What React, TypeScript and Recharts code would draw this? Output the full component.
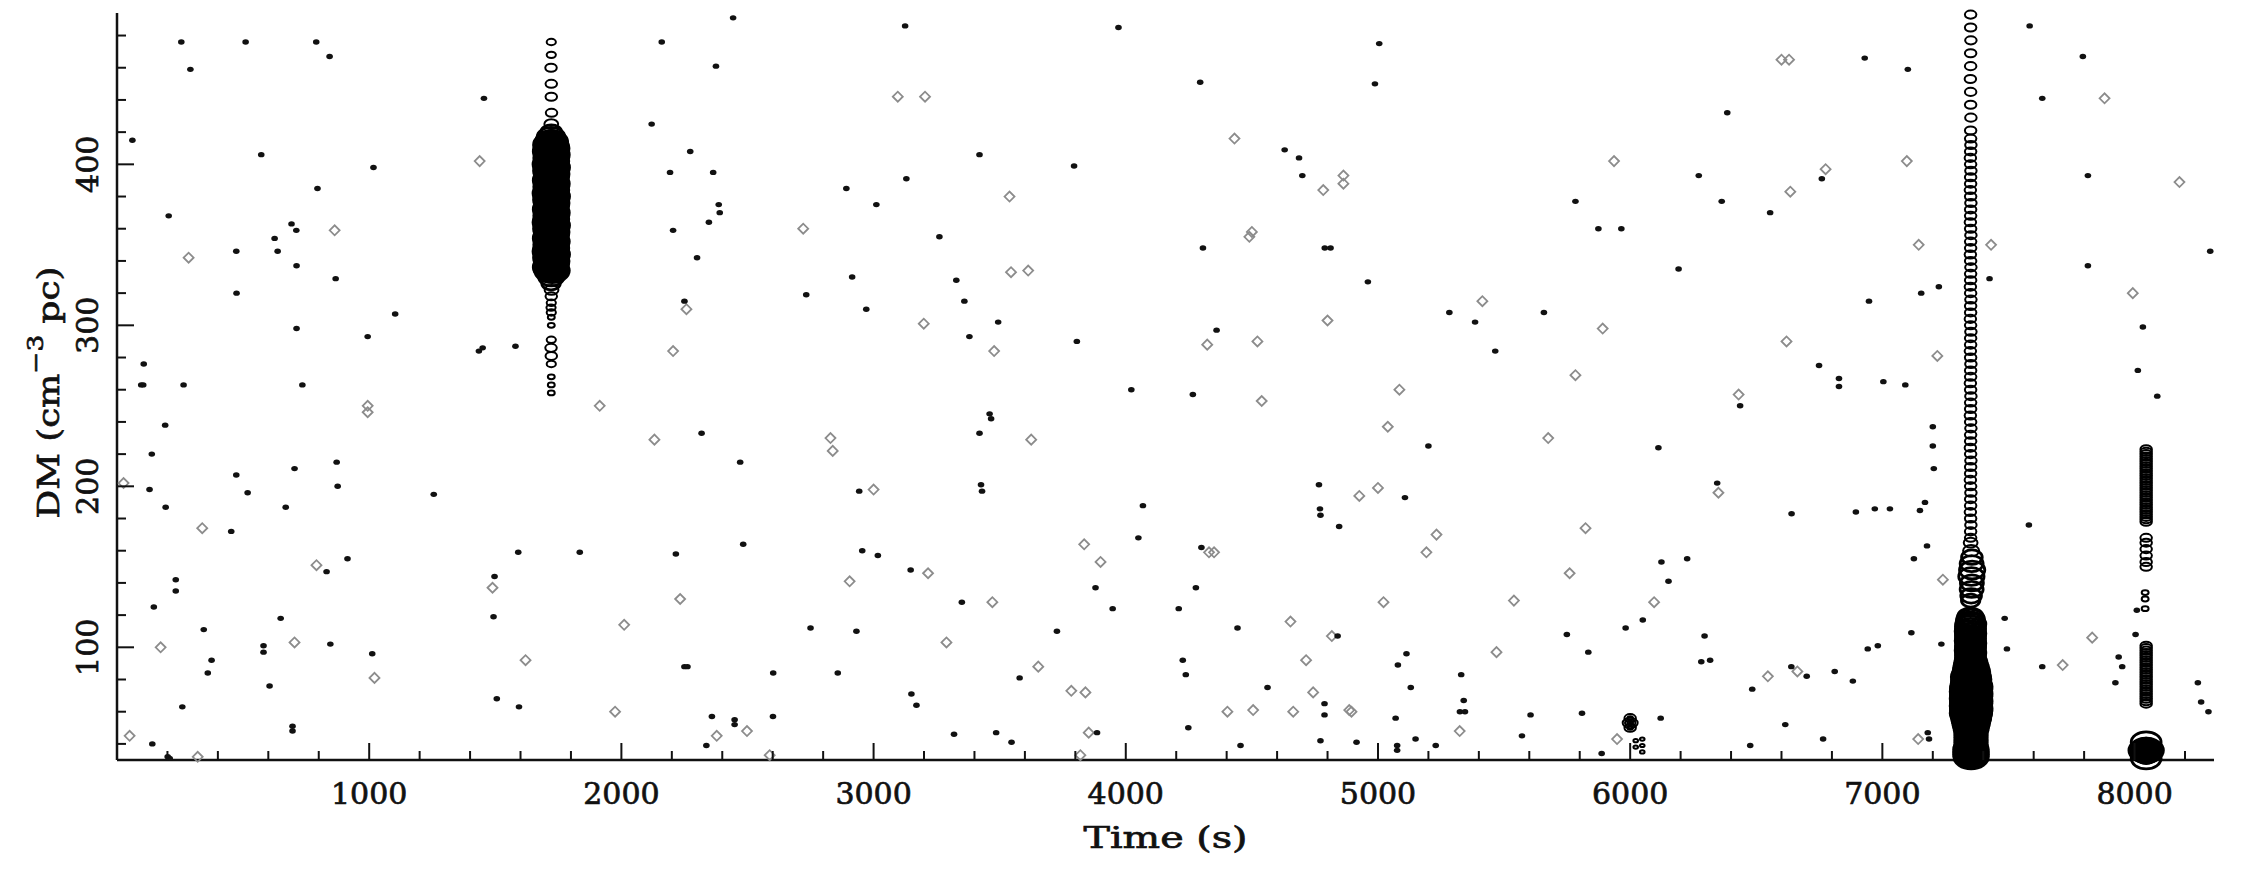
import React from 'react';
import { ScatterChart, Scatter, XAxis, YAxis } from 'recharts';

// single-pulse candidates: [time (s), DM]
const strongEvents = [
  [61, 415], [255, 476], [291, 459], [510, 476], [790, 476], [843, 467], [572, 406], [1017, 398],
  [795, 385], [205, 368], [625, 354], [637, 346], [473, 346], [692, 363], [711, 359], [712, 337],
  [867, 329], [474, 320], [712, 298], [994, 293], [1103, 307], [106, 276], [96, 263], [104, 263],
  [264, 263], [735, 263], [191, 238], [138, 220], [871, 215], [704, 211], [473, 207], [129, 198],
  [875, 200], [518, 196], [193, 187], [669, 187], [453, 172], [914, 155], [831, 147], [233, 142],
  [233, 135], [146, 125], [649, 118], [344, 111], [581, 101], [581, 97], [846, 102], [375, 92],
  [360, 84], [1012, 96], [605, 76], [259, 63], [696, 51], [696, 48], [140, 40], [201, 32], [209, 31],
  [1594, 63], [2337, 39], [2359, 57], [2449, 55], [2449, 52], [2601, 57], [3170, 64], [3319, 46],
  [3486, 47], [3547, 41], [3886, 47], [4248, 50],
  [4455, 39], [4788, 65], [4788, 58], [4772, 42], [4915, 41], [5070, 56], [5076, 39], [5076, 36],
  [5149, 43], [5229, 39], [5325, 60], [5345, 60], [5571, 45], [5605, 58], [5809, 59], [5887, 34],
  [6121, 56], [6476, 39], [6615, 52], [6765, 43], [7180, 47], [7185, 43],
  [6282, 91], [6484, 74], [6639, 88], [6700, 82], [6811, 85], [6883, 79], [6942, 99], [6982, 101], [7234, 102],
  [7101, 459], [7154, 320], [7224, 324], [7091, 263], [7200, 237], [7200, 225], [7204, 211], [7169, 190],
  [7149, 185], [7177, 163], [7125, 155], [7115, 109], [7425, 329], [7485, 118], [7494, 99], [7581, 176], [7584, 486],
  [7795, 467], [7634, 441], [7815, 393], [8300, 346], [7815, 337], [8033, 299], [8013, 272], [8090, 256],
  [7634, 88], [7937, 94], [7951, 88], [7924, 78], [8004, 108], [8009, 123], [8251, 78], [8264, 66], [8293, 60],
  [1256, 195], [1450, 286], [1435, 284], [1455, 441], [1506, 68], [1580, 287], [1591, 159], [1497, 144], [1493, 119],
  [1835, 159],
  [2120, 425], [2160, 476], [2193, 395], [2205, 359], [2216, 158], [2250, 315], [2250, 88], [2262, 88],
  [2273, 408], [2300, 342], [2318, 233], [2347, 364], [2364, 395], [2375, 461], [2386, 375], [2390, 370],
  [2443, 491], [2471, 215], [2483, 164],
  [2602, 84], [2733, 319], [2750, 112], [2858, 84], [2892, 385], [2915, 330], [2932, 110], [2943, 197],
  [2955, 160], [2971, 310],
  [3011, 375], [3017, 157], [3125, 486], [3130, 391], [3147, 148], [3150, 71], [3261, 355], [3328, 328],
  [3350, 128], [3360, 315], [3380, 293], [3420, 406], [3420, 233], [3426, 201], [3430, 197], [3460, 245],
  [3466, 242], [3494, 302],
  [3579, 81], [3727, 110], [3795, 399], [3806, 290], [3880, 137], [3948, 124], [3971, 485],
  [4022, 260], [4050, 168], [4068, 188], [4210, 124], [4226, 92], [4238, 83], [4266, 257], [4278, 137],
  [4295, 451], [4300, 162], [4306, 348], [4360, 297], [4443, 112],
  [4562, 75], [4630, 409], [4687, 404], [4700, 393], [4766, 201], [4770, 186], [4772, 182], [4789, 348],
  [4812, 348], [4840, 107], [4846, 175], [4960, 327], [4988, 450],
  [5005, 475], [5079, 89], [5107, 193], [5113, 96], [5130, 75], [5200, 225], [5283, 308], [5330, 83],
  [5340, 67], [5385, 302], [5465, 284],
  [5658, 308], [5749, 108], [5783, 377], [5834, 97], [5874, 360], [5965, 360], [5982, 112],
  [6050, 117], [6112, 224], [6124, 153], [6152, 141], [6192, 335], [6226, 155], [6272, 393], [6295, 107],
  [6317, 92], [6345, 202], [6363, 377], [6385, 432], [6436, 250],
  [6555, 370], [6640, 183], [6749, 275], [6760, 391], [6828, 267], [6828, 262], [6895, 184], [6930, 466],
  [6947, 315], [6970, 186],
  [7004, 265], [7030, 186],
];

const weakEvents = [
  [863, 359], [284, 342], [994, 250], [994, 246], [26, 202], [338, 174], [791, 151], [173, 100],
  [704, 103], [1021, 81], [50, 45], [320, 32],
  [1975, 60], [2378, 45], [2498, 48], [2588, 33], [3853, 47], [3820, 33],
  [4505, 61], [4664, 60], [4895, 60], [5324, 48], [5948, 43], [7142, 43], [6546, 82],
  [7097, 402], [7144, 350], [7218, 281], [7240, 142], [7431, 350],
  [7881, 441], [8178, 389], [7993, 320], [7715, 89], [7832, 106],
  [1489, 137], [1438, 402], [1620, 92], [1914, 250],
  [2011, 114], [2131, 229], [2205, 284], [2233, 130], [2258, 310],
  [2721, 360], [2829, 230], [2838, 222], [2905, 141],
  [3000, 198], [3096, 442], [3204, 442], [3199, 301], [3216, 146], [3289, 103], [3471, 128], [3478, 284],
  [3539, 380], [3545, 333], [3613, 334], [3625, 229], [3653, 88], [3784, 73], [3835, 164], [3900, 153], [3840, 72],
  [4323, 288], [4330, 159], [4350, 159], [4403, 60], [4431, 416], [4490, 355], [4500, 358],
  [4522, 290], [4539, 253], [4653, 116], [4715, 92], [4743, 72], [4783, 384], [4800, 303], [4817, 107],
  [4863, 393], [4863, 388], [4886, 61], [4926, 194], [5000, 199],
  [5022, 128], [5039, 237], [5085, 260], [5192, 159], [5232, 170], [5414, 315], [5470, 97],
  [5539, 129], [5675, 230], [5760, 146], [5783, 269], [5823, 174], [5891, 298], [5936, 402],
  [6095, 128], [6350, 196], [6430, 257],
  [6600, 465], [6630, 465], [6620, 290], [6635, 383], [6663, 85], [6775, 397],
];

// bright pulses: [time (s), DM, sigma]
const pulsesA = [
  [1722, 476, 4], [1722, 468, 4], [1721, 460, 5], [1722, 450, 5], [1722, 442, 5], [1723, 432, 5], [1722, 425, 6],
  [1722, 420, 9], [1721, 417, 12], [1723, 414, 14],
  [1720, 412, 15], [1724, 410, 15], [1719, 408, 15], [1725, 406, 15], [1721, 404, 15], [1723, 402, 15],
  [1718, 400, 15], [1726, 398, 15], [1720, 396, 15], [1724, 394, 15], [1722, 392, 15], [1719, 390, 15],
  [1725, 388, 15], [1721, 386, 15], [1723, 384, 15], [1718, 382, 15], [1726, 380, 15], [1720, 378, 15],
  [1724, 376, 15], [1722, 374, 15], [1719, 372, 15], [1725, 370, 15], [1721, 368, 15], [1723, 366, 15],
  [1718, 364, 15], [1726, 362, 15], [1720, 360, 15], [1724, 358, 15], [1722, 356, 15], [1719, 354, 15],
  [1725, 352, 15], [1721, 350, 15], [1723, 348, 15], [1718, 346, 15], [1726, 344, 15], [1720, 342, 15],
  [1724, 340, 15], [1722, 338, 15], [1719, 336, 15], [1725, 334, 15],
  [1722, 330, 11], [1721, 326, 8], [1723, 322, 6], [1722, 318, 5], [1722, 314, 4], [1721, 311, 4],
  [1722, 308, 4], [1722, 305, 3], [1722, 300, 3], [1722, 291, 4], [1721, 286, 5], [1722, 281, 5],
  [1722, 276, 4], [1722, 268, 3], [1722, 263, 3], [1722, 258, 3],
];

const pulsesB = [
  [7350, 493, 5], [7350, 485, 5], [7351, 477, 5], [7350, 469, 5], [7350, 461, 5], [7349, 453, 5],
  [7350, 445, 5], [7350, 437, 5], [7351, 429, 5], [7350, 421, 5],
  [7350, 416, 5], [7351, 412, 5], [7350, 408, 5], [7349, 404, 5], [7350, 400, 5], [7351, 396, 5],
  [7350, 392, 5], [7350, 388, 5], [7349, 384, 5], [7350, 380, 5], [7351, 376, 5], [7350, 372, 5],
  [7350, 368, 5], [7349, 364, 5], [7350, 360, 5], [7351, 356, 5], [7350, 352, 5], [7350, 348, 5],
  [7349, 344, 5], [7350, 340, 5], [7351, 336, 5], [7350, 332, 5], [7350, 328, 5], [7349, 324, 5],
  [7350, 320, 5], [7351, 316, 5], [7350, 312, 5], [7350, 308, 5], [7349, 304, 5], [7350, 300, 5],
  [7351, 296, 5], [7350, 292, 5], [7350, 288, 5], [7349, 284, 5], [7350, 280, 5], [7351, 276, 5],
  [7350, 272, 5], [7350, 268, 5], [7349, 264, 5], [7350, 260, 5], [7351, 256, 5], [7350, 252, 5],
  [7350, 248, 5], [7349, 244, 5], [7350, 240, 5], [7351, 236, 5], [7350, 232, 5], [7350, 228, 5],
  [7349, 224, 5], [7350, 220, 5], [7351, 216, 5], [7350, 212, 5], [7350, 208, 5], [7349, 204, 5],
  [7350, 200, 5], [7351, 196, 5], [7350, 192, 5], [7350, 188, 5], [7349, 184, 5], [7350, 180, 5],
  [7351, 176, 5], [7350, 172, 5], [7350, 168, 5], [7350, 165, 6],
  [7352, 160, 7], [7355, 156, 9], [7354, 152, 10], [7356, 148, 11], [7353, 144, 11], [7355, 140, 10],
  [7354, 136, 10], [7352, 132, 9], [7350, 129, 8],
  [7349, 119, 11], [7350, 117.5, 12], [7348, 116, 12], [7351, 114.5, 13], [7349, 113, 13], [7350, 111.5, 13],
  [7348, 110, 13], [7351, 108.5, 13], [7349, 107, 13], [7350, 105.5, 13], [7348, 104, 13], [7351, 102.5, 13],
  [7349, 101, 13], [7350, 99.5, 13], [7348, 98, 13], [7351, 96.5, 13], [7349, 95, 13], [7350, 93.5, 13],
  [7349, 92, 13], [7351, 90.5, 14], [7350, 89, 14], [7352, 87.5, 15], [7351, 86, 15], [7353, 84.5, 16],
  [7352, 83, 16], [7351, 81.5, 17], [7353, 80, 17], [7352, 78.5, 17], [7351, 77, 17], [7353, 75.5, 18],
  [7352, 74, 18], [7351, 72.5, 18], [7353, 71, 18], [7352, 69.5, 18], [7351, 68, 18], [7353, 66.5, 18],
  [7352, 65, 18], [7351, 63.5, 18], [7353, 62, 18], [7352, 60.5, 18], [7351, 59, 18], [7353, 57.5, 17],
  [7352, 56, 17], [7351, 54.5, 16], [7352, 53, 16], [7351, 51.5, 15], [7352, 50, 15], [7351, 48.5, 14],
  [7352, 47, 14], [7351, 45.5, 14], [7352, 44, 14], [7351, 42.5, 14], [7352, 41, 14], [7351, 39.5, 14],
  [7352, 38, 14], [7351, 36.5, 15], [7352, 35, 15], [7351, 33.5, 15], [7352, 32, 15],
];

const pulsesC = [
  [8046, 223, 5], [8046, 221.5, 5], [8046, 220, 5], [8046, 218.5, 5], [8046, 217, 5], [8046, 215.5, 5],
  [8046, 214, 5], [8046, 212.5, 5], [8046, 211, 5], [8046, 209.5, 5], [8046, 208, 5], [8046, 206.5, 5],
  [8046, 205, 5], [8046, 203.5, 5], [8046, 202, 5], [8046, 200.5, 5], [8046, 199, 5], [8046, 197.5, 5],
  [8046, 196, 5], [8046, 194.5, 5], [8046, 193, 5], [8046, 191.5, 5], [8046, 190, 5], [8046, 188.5, 5],
  [8046, 187, 5], [8046, 185.5, 5], [8046, 184, 5], [8046, 182.5, 5], [8046, 181, 5], [8046, 179.5, 5],
  [8046, 178, 5],
  [8046, 168, 5], [8046, 165, 5], [8046, 161, 5], [8046, 157, 5], [8046, 153, 5], [8046, 150, 5],
  [8042, 134, 3], [8042, 130, 3], [8042, 124, 3],
  [8046, 101, 5], [8046, 99.5, 5], [8046, 98, 5], [8046, 96.5, 5], [8046, 95, 5], [8046, 93.5, 5],
  [8046, 92, 5], [8046, 90.5, 5], [8046, 89, 5], [8046, 87.5, 5], [8046, 86, 5], [8046, 84.5, 5],
  [8046, 83, 5], [8046, 81.5, 5], [8046, 80, 5], [8046, 78.5, 5], [8046, 77, 5], [8046, 75.5, 5],
  [8046, 74, 5], [8046, 72.5, 5], [8046, 71, 5], [8046, 69.5, 5], [8046, 68, 5], [8046, 66.5, 5],
  [8046, 65, 5],
  [8046, 36, 15], [8046, 41, 13], [8046, 38, 11], [8046, 34, 12], [8046, 33, 9], [8046, 31, 13], [8046, 31, 7],
  [6000, 53, 6.5], [6000, 53, 4.5], [6000, 53, 2.5], [6000, 50, 5], [6000, 56, 5], [6000, 50, 2.5], [6000, 56, 2.5],
  [6022, 42, 2], [6022, 38, 2], [6048, 43, 2], [6048, 39, 2], [6048, 35, 2],
];

const xTicks = [
  200, 400, 600, 800, 1000, 1200, 1400, 1600, 1800, 2000, 2200, 2400, 2600, 2800, 3000, 3200, 3400,
  3600, 3800, 4000, 4200, 4400, 4600, 4800, 5000, 5200, 5400, 5600, 5800, 6000, 6200, 6400, 6600,
  6800, 7000, 7200, 7400, 7600, 7800, 8000, 8200,
];
const yTicks = [
  40, 60, 80, 100, 120, 140, 160, 180, 200, 220, 240, 260, 280, 300, 320, 340, 360, 380, 400, 420,
  440, 460, 480,
];

const toRows = (list: number[][]) => list.map(([t, dm, sigma]) => ({ t, dm, sigma }));
const strongRows = toRows(strongEvents);
const weakRows = toRows(weakEvents);
const pulseRows = toRows([...pulsesA, ...pulsesB, ...pulsesC]);

const INK = '#111';
const FONT = 'DejaVu Serif';
const axisLine = { stroke: INK, strokeWidth: 2.5 };

const StrongMark = ({ cx, cy }: any) => <ellipse cx={cx} cy={cy} rx={3.3} ry={2.7} fill={INK} />;

const WeakMark = ({ cx, cy }: any) => (
  <path
    d={`M${cx - 5},${cy}L${cx},${cy - 5}L${cx + 5},${cy}L${cx},${cy + 5}Z`}
    fill="none"
    stroke="#8c8c8c"
    strokeWidth={1.8}
  />
);

// marker size follows the detection sigma; the brightest ones pile up into solid blocks
const PulseMark = ({ cx, cy, payload }: any) => {
  const rx = 1.15 * payload.sigma;
  return (
    <ellipse
      cx={cx}
      cy={cy}
      rx={rx}
      ry={rx * 0.7}
      fill={payload.sigma >= 14 ? '#000' : 'none'}
      stroke="#000"
      strokeWidth={payload.sigma >= 8 ? 2.8 : 2}
    />
  );
};

const label = (x: number, y: number, text: number | string, rotate = false) => (
  <text
    x={0}
    y={0}
    transform={`translate(${x},${y})${rotate ? ' rotate(-90)' : ''}`}
    textAnchor="middle"
    dominantBaseline="central"
    fontFamily={FONT}
    fontSize={30}
    fill={INK}
    stroke={INK}
    strokeWidth={0.7}
  >
    {text}
  </text>
);

const BottomTick = ({ x, y, payload }: any) => {
  const major = payload.value % 1000 === 0;
  return (
    <g>
      <line x1={x} y1={y} x2={x} y2={y - (major ? 17 : 9)} stroke={INK} strokeWidth={2} />
      {major && label(x, y + 33, payload.value)}
    </g>
  );
};

const TopTick = ({ x, y, payload }: any) => {
  const major = payload.value % 1000 === 0;
  return <line x1={x} y1={y} x2={x} y2={y + (major ? 17 : 9)} stroke={INK} strokeWidth={2} />;
};

const LeftTick = ({ x, y, payload }: any) => {
  const major = payload.value % 100 === 0;
  return (
    <g>
      <line x1={x} y1={y} x2={x + (major ? 17 : 9)} y2={y} stroke={INK} strokeWidth={2} />
      {major && label(x - 30, y, payload.value, true)}
    </g>
  );
};

const RightTick = ({ x, y, payload }: any) => {
  const major = payload.value % 100 === 0;
  return <line x1={x} y1={y} x2={x - (major ? 17 : 9)} y2={y} stroke={INK} strokeWidth={2} />;
};

const XTitle = ({ viewBox }: any) => (
  <text
    x={viewBox.x + viewBox.width / 2}
    y={viewBox.y + 77}
    textAnchor="middle"
    dominantBaseline="central"
    fontFamily={FONT}
    fontSize={30}
    fill={INK}
    stroke={INK}
    strokeWidth={0.7}
    textLength={164}
    lengthAdjust="spacingAndGlyphs"
  >
    Time (s)
  </text>
);

const YTitle = ({ viewBox }: any) => (
  <text
    x={0}
    y={0}
    transform={`translate(${viewBox.x + 40},${viewBox.y + viewBox.height / 2 + 6}) rotate(-90)`}
    textAnchor="middle"
    dominantBaseline="central"
    fontFamily={FONT}
    fontSize={30}
    fill={INK}
    stroke={INK}
    strokeWidth={0.7}
    textLength={252}
    lengthAdjust="spacingAndGlyphs"
  >
    <tspan>DM (cm</tspan>
    <tspan dy={-13} fontSize={22}>−3</tspan>
    <tspan dy={13}> pc)</tspan>
  </text>
);

const X_DOMAIN = [0, 8315];
const Y_DOMAIN = [30, 494];

export default function App() {
  return (
    <ScatterChart width={2230} height={854} margin={{ top: 5, right: 24, bottom: 0, left: 0 }}>
      <XAxis
        xAxisId="b"
        dataKey="t"
        type="number"
        domain={X_DOMAIN}
        ticks={xTicks}
        interval={0}
        height={102}
        tickSize={0}
        tickMargin={0}
        tickLine={false}
        tick={BottomTick}
        axisLine={axisLine}
        label={{ content: XTitle }}
      />
      <XAxis
        xAxisId="t"
        orientation="top"
        dataKey="t"
        type="number"
        domain={X_DOMAIN}
        ticks={xTicks}
        interval={0}
        height={0}
        tickSize={0}
        tickMargin={0}
        tickLine={false}
        tick={TopTick}
        axisLine={axisLine}
      />
      <YAxis
        yAxisId="l"
        dataKey="dm"
        type="number"
        domain={Y_DOMAIN}
        ticks={yTicks}
        interval={0}
        width={109}
        tickSize={0}
        tickMargin={0}
        tickLine={false}
        tick={LeftTick}
        axisLine={axisLine}
        label={{ content: YTitle }}
      />
      <YAxis
        yAxisId="r"
        orientation="right"
        dataKey="dm"
        type="number"
        domain={Y_DOMAIN}
        ticks={yTicks}
        interval={0}
        width={0}
        tickSize={0}
        tickMargin={0}
        tickLine={false}
        tick={RightTick}
        axisLine={axisLine}
      />
      <Scatter data={weakRows} xAxisId="b" yAxisId="l" shape={WeakMark} isAnimationActive={false} />
      <Scatter data={strongRows} xAxisId="b" yAxisId="l" shape={StrongMark} isAnimationActive={false} />
      <Scatter data={pulseRows} xAxisId="t" yAxisId="r" shape={PulseMark} isAnimationActive={false} />
    </ScatterChart>
  );
}
